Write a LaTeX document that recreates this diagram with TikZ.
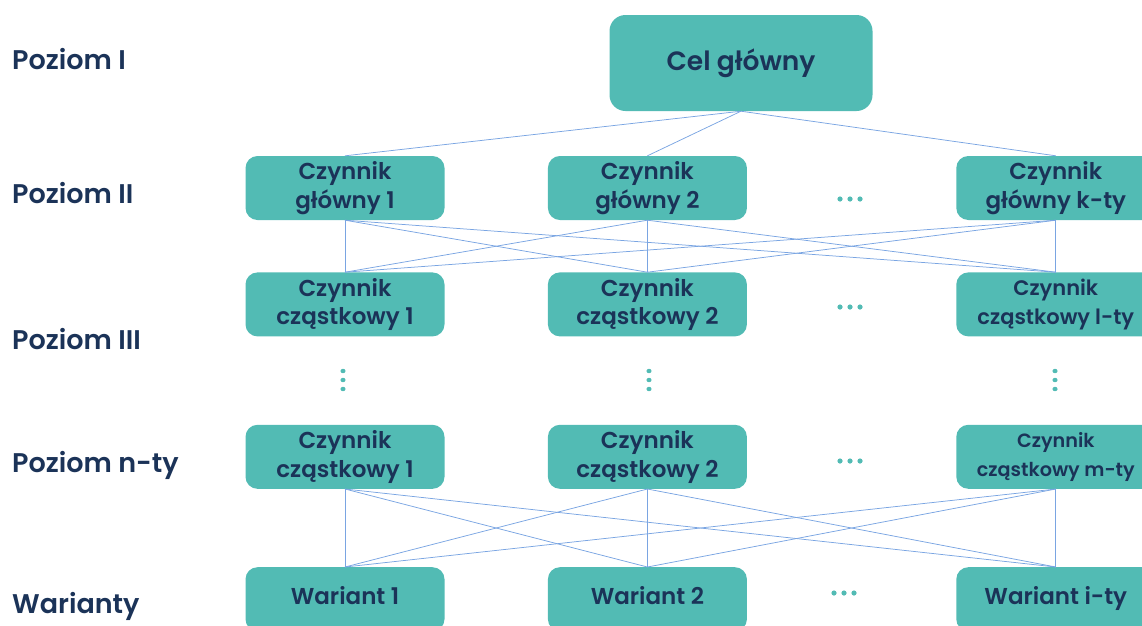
\documentclass[tikz,border=0pt]{standalone}
\usepackage{fontspec}
\setmainfont{Poppins}[BoldFont={Poppins SemiBold}]
\usepackage{tikz}
\usetikzlibrary{positioning}
\definecolor{turkus}{HTML}{52BBB4}
\definecolor{granat}{HTML}{1B3358}
\definecolor{liniakol}{HTML}{7AA5E2}
\tikzstyle{blok} = [rectangle, fill=turkus, text=granat, align=center,
rounded corners=12pt, minimum width=199pt, minimum height=64pt, inner sep=0pt,
font=\bfseries\fontsize{23}{28.5}\selectfont]
\tikzstyle{wariant} = [blok, text height=16pt, text depth=5pt]
\tikzstyle{glowny} = [blok, minimum width=263pt, minimum height=96pt, rounded corners=16pt,
font=\bfseries\fontsize{26.5}{32}\selectfont]
\tikzstyle{poziom} = [anchor=base west, inner sep=0pt, text=granat, font=\bfseries\fontsize{27}{32}\selectfont]
\tikzstyle{polaczenie} = [draw, liniakol, line width=0.75pt]
\tikzstyle{kropka} = [fill=turkus]

\begin{document}
\begin{tikzpicture}[x=1pt, y=-1pt]
\useasboundingbox (0,0) rectangle (1142,625);
    % nodes
\node [glowny] (cel) at (741,63) {Cel główny};
\node [blok] (g1) at (345,188) {Czynnik\\główny 1};
\node [blok, right=103pt of g1] (g2) {Czynnik\\główny 2};
\node [blok, right=209pt of g2] (g3) {Czynnik\\główny k-ty};
\node [blok, below=52pt of g1] (c1) {Czynnik\\cząstkowy 1};
\node [blok, below=52pt of g2] (c2) {Czynnik\\cząstkowy 2};
\node [blok, below=52pt of g3, font=\bfseries\fontsize{21}{28.5}\selectfont] (c3) {Czynnik\\cząstkowy l-ty};
\node [blok, below=88pt of c1] (n1) {Czynnik\\cząstkowy 1};
\node [blok, below=88pt of c2] (n2) {Czynnik\\cząstkowy 2};
\node [blok, below=88pt of c3, font=\bfseries\fontsize{19.2}{28.5}\selectfont] (n3) {Czynnik\\cząstkowy m-ty};
\node [wariant, below=78pt of n1] (w1) {Wariant 1};
\node [wariant, below=78pt of n2] (w2) {Wariant 2};
\node [wariant, below=78pt of n3] (w3) {Wariant i-ty};

\node [poziom] (p1) at (12,69) {Poziom I};
\node [poziom] (p2) at (12,203) {Poziom II};
\node [poziom] (p3) at (12,349) {Poziom III};
\node [poziom] (pn) at (12,472) {Poziom n-ty};
\node [poziom] (pw) at (12,613) {Warianty};

%dots
\fill [kropka] (840,199) circle (2.6pt) (850,199) circle (2.6pt) (860,199) circle (2.6pt);
\fill [kropka] (840,307) circle (2.6pt) (850,307) circle (2.6pt) (860,307) circle (2.6pt);
\fill [kropka] (840,461) circle (2.6pt) (850,461) circle (2.6pt) (860,461) circle (2.6pt);
\fill [kropka] (834,593) circle (2.6pt) (844,593) circle (2.6pt) (854,593) circle (2.6pt);
\fill [kropka] (343,371) ellipse (2.6pt and 2.2pt) (343,380) ellipse (2.6pt and 2.2pt) (343,389) ellipse (2.6pt and 2.2pt);
\fill [kropka] (649,371) ellipse (2.6pt and 2.2pt) (649,380) ellipse (2.6pt and 2.2pt) (649,389) ellipse (2.6pt and 2.2pt);
\fill [kropka] (1055,371) ellipse (2.6pt and 2.2pt) (1055,380) ellipse (2.6pt and 2.2pt) (1055,389) ellipse (2.6pt and 2.2pt);

%edges
\path [polaczenie] (cel.south) -- (g1.north);
\path [polaczenie] (cel.south) -- (g2.north);
\path [polaczenie] (cel.south) -- (g3.north);

\path [polaczenie] (g1.south) -- (c1.north);
\path [polaczenie] (g1.south) -- (c2.north);
\path [polaczenie] (g1.south) -- (c3.north);
\path [polaczenie] (g2.south) -- (c1.north);
\path [polaczenie] (g2.south) -- (c2.north);
\path [polaczenie] (g2.south) -- (c3.north);
\path [polaczenie] (g3.south) -- (c1.north);
\path [polaczenie] (g3.south) -- (c2.north);
\path [polaczenie] (g3.south) -- (c3.north);

\path [polaczenie] (n1.south) -- (w1.north);
\path [polaczenie] (n1.south) -- (w2.north);
\path [polaczenie] (n1.south) -- (w3.north);
\path [polaczenie] (n2.south) -- (w1.north);
\path [polaczenie] (n2.south) -- (w2.north);
\path [polaczenie] (n2.south) -- (w3.north);
\path [polaczenie] (n3.south) -- (w1.north);
\path [polaczenie] (n3.south) -- (w2.north);
\path [polaczenie] (n3.south) -- (w3.north);

\end{tikzpicture}
\end{document}
